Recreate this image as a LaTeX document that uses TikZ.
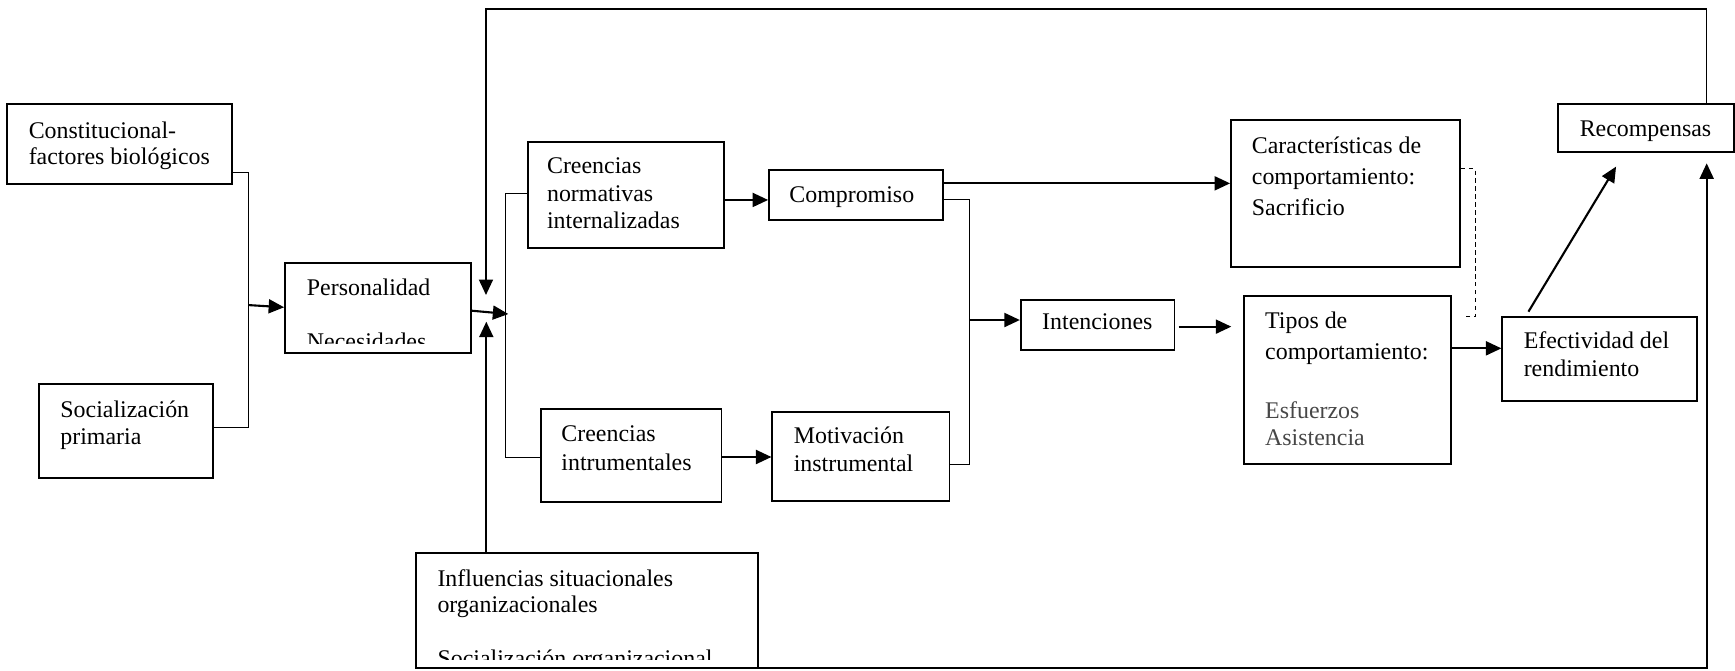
\documentclass[tikz,border=0pt]{standalone}
\usepackage{fontspec}
\setmainfont{Liberation Serif}
\usetikzlibrary{arrows.meta,fit}
\begin{document}
\begin{tikzpicture}[x=0.5pt,y=-0.5pt,
  box/.style={draw, line width=0.8pt, inner sep=0pt, rectangle},
  txt/.style={anchor=base west, inner sep=0pt, font=\fontsize{10.8}{12.6}\selectfont},
  gtxt/.style={txt, text=black!72},
  arr/.style={line width=0.95pt, -{Triangle[length=7pt,width=6.3pt]}},
  thinline/.style={line width=0.45pt},
  thickline/.style={line width=0.95pt},
  dashline/.style={line width=0.45pt, dash pattern=on 2pt off 1.6pt}]
\useasboundingbox (0,0) rectangle (1568,606);

% boxes
\node[box, fit={(6.6,94) (209.4,166.3)}] (const) {};
\node[box, fit={(35.5,347) (192.8,431.7)}] (soc) {};
\node[box, fit={(257.6,238) (425.7,318.7)}] (pers) {};
\node[box, fit={(477,128) (654,224)}] (cn) {};
\node[box, fit={(489,369.6) (652,453.7)}] (ci) {};
\node[box, fit={(695,153.6) (852,198.8)}] (comp) {};
\node[box, fit={(698,372.6) (858,452.5)}] (motiv) {};
\node[box, fit={(922.5,271.1) (1061.5,316.3)}] (int) {};
\node[box, fit={(1112.5,108.5) (1319.5,241)}] (caract) {};
\node[box, fit={(1124.3,267.5) (1311.5,419.6)}] (tipos) {};
\node[box, fit={(1357.7,286.2) (1533.4,362.4)}] (efect) {};
\node[box, fit={(1408.3,94) (1567.4,137.7)}] (recomp) {};
\node[box, fit={(376,499.5) (684.7,603.7)}] (infl) {};

% texts
\node[txt] (const-a) at (25.6,124.9) {Constitucional-};
\node[txt] (const-b) at (25.6,149) {factores biológicos};
\node[txt] (soc-a) at (54.2,377.5) {Socialización};
\node[txt] (soc-b) at (54.2,402) {primaria};
\node[txt] (pers-a) at (277,266.6) {Personalidad};
\begin{scope}
  \clip (257.6,238) rectangle (425.7,310.5);
  \node[txt] (pers-b) at (277,316) {Necesidades};
\end{scope}
\node[txt] (cn-a) at (494,156.7) {Creencias};
\node[txt] (cn-b) at (494,181.7) {normativas};
\node[txt] (cn-c) at (494,206.4) {internalizadas};
\node[txt] (ci-a) at (507,399.2) {Creencias};
\node[txt] (ci-b) at (507,424.8) {intrumentales};
\node[txt] (comp-a) at (713,183) {Compromiso};
\node[txt] (motiv-a) at (717,400.6) {Motivación};
\node[txt] (motiv-b) at (717,426.3) {instrumental};
\node[txt] (int-a) at (941.5,298.2) {Intenciones};
\node[txt] (caract-a) at (1131,138.5) {Características de};
\node[txt] (caract-b) at (1131,167) {comportamiento:};
\node[txt] (caract-c) at (1131,195) {Sacrificio};
\node[txt] (tipos-a) at (1143,297) {Tipos de};
\node[txt] (tipos-b) at (1143,325) {comportamiento:};
\node[gtxt] (tipos-c) at (1143,378) {Esfuerzos};
\node[gtxt] (tipos-d) at (1143,402.5) {Asistencia};
\node[txt] (efect-a) at (1376.7,314.8) {Efectividad del};
\node[txt] (efect-b) at (1376.7,340.4) {rendimiento};
\node[txt] (recomp-a) at (1427.3,123.5) {Recompensas};
\node[txt] (infl-a) at (395,529.6) {Influencias situacionales};
\node[txt] (infl-b) at (395,553.7) {organizacionales};
\begin{scope}
  \clip (376,499.5) rectangle (684.7,595.6);
  \node[txt] (infl-c) at (395,602.7) {Socialización organizacional};
\end{scope}

% junction coordinates
\coordinate (j1) at (224.4,275.7);
\coordinate (j2) at (459.4,283.8);
\coordinate (j3) at (876,289.2);
\coordinate (j4) at (1065.2,295.2);
\coordinate (j5) at (1112.8,295.2);
\coordinate (j6) at (1381.3,281.7);
\coordinate (j7) at (1460.5,150.6);
\coordinate (topL) at (439.2,8.1);
\coordinate (topR) at (1542.4,8.1);
\coordinate (downTip) at (439.2,266.6);
\coordinate (upTip) at (439.5,290.7);
\coordinate (botL) at (641.7,603.7);
\coordinate (botR) at (1542.4,603.7);
\coordinate (rightTip) at (1542.4,147.6);

% connectors
\draw[thinline] (const.east |- 0,156) -- (224.4,156) -- (224.4,386.5) -- (soc.east |- 0,386.5);
\draw[arr] (j1) -- (pers.west |- 0,277.7);
\draw[arr] (pers.east |- 0,280.8) -- (j2);
\draw[thinline] (cn.west |- 0,174.7) -- (457,174.7) -- (457,413.3) -- (ci.west |- 0,413.3);
\draw[arr] (cn.east |- 0,180.7) -- (comp.west |- 0,180.7);
\draw[arr] (ci.east |- 0,413) -- (motiv.west |- 0,413);
\draw[arr] (comp.east |- 0,165.7) -- (caract.west |- 0,165.7);
\draw[thinline] (comp.east |- 0,180.7) -- (876,180.7) -- (876,419.6) -- (motiv.east |- 0,419.6);
\draw[arr] (j3) -- (int.west |- j3);
\draw[arr] (j4) -- (j5);
\draw[dashline] (caract.east |- 0,152.7) -- (1333.3,152.7) -- (1333.3,286.2) -- (1322,286.2);
\draw[arr] (tipos.east |- 0,314.8) -- (efect.west |- 0,314.8);
\draw[arr] (j6) -- (j7);
\draw[line width=0.6pt] (recomp.north -| topR) -- (topR);
\draw[arr] (topR) -- (topL) -- (downTip);
\draw[arr] (infl.north -| upTip) -- (upTip);
\draw[arr] (botL) -- (botR) -- (rightTip);
\end{tikzpicture}
\end{document}
